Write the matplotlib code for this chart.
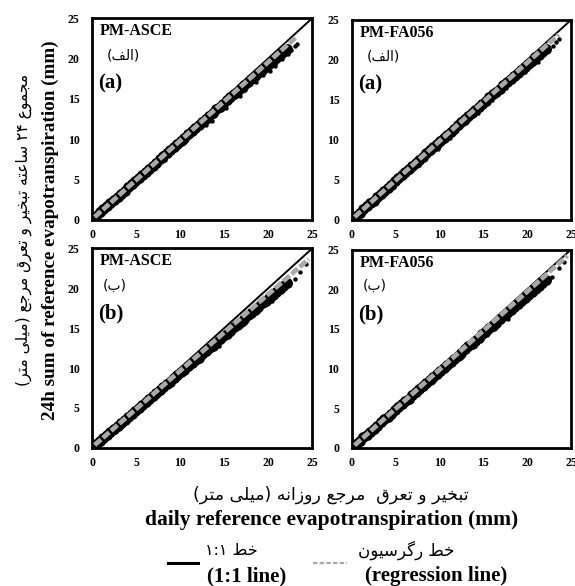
import matplotlib
matplotlib.use("Agg")
import matplotlib.pyplot as plt

# ---------------------------------------------------------------------------
# Data
# ---------------------------------------------------------------------------

PANEL_NAMES = ["PM-ASCE", "PM-FA056", "PM-ASCE", "PM-FA056"]
PANEL_TAGS_FA = ["(الف)", "(الف)", "(ب)", "(ب)"]
PANEL_TAGS_EN = ["(a)", "(a)", "(b)", "(b)"]
TICKS = [0, 5, 10, 15, 20, 25]

# daily reference ET (x), shared by the four panels
X_BAND = [0.5, 0.9, 1.3, 1.7, 2.1, 2.5, 2.9, 3.3, 3.7, 4.1, 4.5, 4.9, 5.3, 5.7,
          6.1, 6.5, 6.9, 7.3, 7.7, 8.1, 8.5, 8.9, 9.3, 9.7, 10.1, 10.5, 10.9,
          11.3, 11.7, 12.1, 12.5, 12.9, 13.3, 13.7, 14.1, 14.5, 14.9, 15.3,
          15.7, 16.1, 16.5, 16.9, 17.3, 17.7, 18.1, 18.5, 18.9, 19.3, 19.7,
          20.1, 20.5, 20.9, 21.3, 21.7, 22.1]

# 24h sums (y) per panel
Y_TL = [0.5, 0.9, 1.3, 1.7, 2.1, 2.4, 2.8, 3.2, 3.6, 4.0, 4.4, 4.8, 5.2, 5.6,
        5.9, 6.3, 6.7, 7.1, 7.5, 7.9, 8.3, 8.7, 9.0, 9.4, 9.8, 10.2, 10.6,
        11.0, 11.4, 11.7, 12.1, 12.5, 12.9, 13.3, 13.7, 14.0, 14.4, 14.8,
        15.2, 15.6, 15.9, 16.3, 16.7, 17.1, 17.4, 17.8, 18.2, 18.6, 18.9,
        19.3, 19.7, 20.1, 20.4, 20.8, 21.2]
Y_TR = [0.5, 0.9, 1.3, 1.7, 2.1, 2.4, 2.8, 3.2, 3.6, 4.0, 4.4, 4.8, 5.2, 5.6,
        6.0, 6.3, 6.7, 7.1, 7.5, 7.9, 8.3, 8.7, 9.1, 9.5, 9.9, 10.2, 10.6,
        11.0, 11.4, 11.8, 12.2, 12.6, 13.0, 13.4, 13.7, 14.1, 14.5, 14.9,
        15.3, 15.7, 16.0, 16.4, 16.8, 17.2, 17.6, 18.0, 18.3, 18.7, 19.1,
        19.5, 19.9, 20.3, 20.6, 21.0, 21.4]
Y_BL = [0.5, 0.8, 1.2, 1.6, 2.0, 2.4, 2.7, 3.1, 3.5, 3.9, 4.2, 4.6, 5.0, 5.4,
        5.7, 6.1, 6.5, 6.9, 7.2, 7.6, 8.0, 8.3, 8.7, 9.1, 9.5, 9.8, 10.2,
        10.6, 11.0, 11.3, 11.7, 12.1, 12.5, 12.8, 13.2, 13.6, 14.0, 14.3,
        14.7, 15.1, 15.4, 15.8, 16.2, 16.6, 16.9, 17.3, 17.7, 18.1, 18.4,
        18.8, 19.2, 19.5, 19.9, 20.3, 20.7]
Y_BR = [0.5, 0.9, 1.3, 1.6, 2.0, 2.4, 2.8, 3.2, 3.6, 3.9, 4.3, 4.7, 5.1, 5.5,
        5.9, 6.2, 6.6, 7.0, 7.4, 7.8, 8.2, 8.5, 8.9, 9.3, 9.7, 10.1, 10.4,
        10.8, 11.2, 11.6, 12.0, 12.4, 12.8, 13.1, 13.5, 13.9, 14.3, 14.7,
        15.1, 15.4, 15.8, 16.2, 16.6, 17.0, 17.4, 17.7, 18.1, 18.5, 18.9,
        19.3, 19.6, 20.0, 20.4, 20.8, 21.2]

# scattered points off the main band
OUT_X_TL = [3.2, 6.0, 8.3, 10.6, 12.9, 13.6, 15.2, 16.8, 17.4, 18.6, 19.4,
            20.2, 20.8, 21.6, 22.2, 22.6, 23.0, 23.3]
OUT_Y_TL = [2.6, 5.3, 7.4, 9.6, 11.8, 12.3, 13.9, 15.3, 16.1, 17.1, 17.9,
            18.5, 19.1, 19.9, 20.5, 21.1, 21.5, 21.8]
OUT_X_TR = [2.4, 4.8, 7.7, 9.8, 11.2, 13.0, 14.4, 16.0, 17.6, 18.8, 19.8,
            20.6, 21.2, 21.8, 22.4, 22.9, 23.3, 23.6]
OUT_Y_TR = [1.9, 4.1, 6.9, 8.9, 10.2, 12.1, 13.4, 15.0, 16.5, 17.7, 18.5,
            19.3, 19.7, 20.7, 21.1, 21.7, 22.2, 22.6]
OUT_X_BL = [2.6, 4.8, 7.4, 9.6, 11.6, 13.2, 14.4, 15.6, 16.8, 17.4, 18.2,
            18.9, 19.6, 20.4, 21.0, 21.6, 22.4, 23.0, 23.6, 24.3]
OUT_Y_BL = [2.0, 4.0, 6.5, 8.6, 10.5, 11.9, 12.7, 14.2, 15.2, 15.7, 16.7,
            17.2, 17.9, 18.4, 19.3, 19.8, 20.7, 21.2, 22.1, 23.0]
OUT_X_BR = [2.2, 4.6, 6.8, 9.2, 11.0, 12.6, 14.0, 15.4, 16.6, 17.8, 18.4,
            19.0, 19.6, 20.4, 21.2, 22.0, 22.8, 23.6, 24.2]
OUT_Y_BR = [1.7, 3.9, 6.0, 8.3, 10.0, 11.4, 12.8, 14.2, 15.3, 16.3, 17.4,
            18.2, 18.6, 19.5, 19.8, 20.9, 21.5, 22.7, 23.4]

Y_BANDS = [Y_TL, Y_TR, Y_BL, Y_BR]
OUT_X = [OUT_X_TL, OUT_X_TR, OUT_X_BL, OUT_X_BR]
OUT_Y = [OUT_Y_TL, OUT_Y_TR, OUT_Y_BL, OUT_Y_BR]

# regression line per panel: slope, intercept, x end
REG_SLOPE = [0.975, 0.98, 0.96, 0.985]
REG_INTERCEPT = [0.05, 0.05, 0.05, 0.0]
REG_XMAX = [23.3, 23.6, 24.6, 24.6]

YLABEL_FA = "مجموع ۲۴ ساعته تبخیر و تعرق مرجع (میلی متر)"
YLABEL_EN = "24h sum of reference evapotranspiration (mm)"
XLABEL_FA = "تبخیر و تعرق  مرجع روزانه (میلی متر)"
XLABEL_EN = "daily reference evapotranspiration (mm)"
LEG_FA = ["خط ۱:۱", "خط رگرسیون"]
LEG_EN = ["(1:1 line)", "(regression line)"]

# ---------------------------------------------------------------------------
# Minimal Persian shaping (matplotlib has no bidi / joining support)
# ---------------------------------------------------------------------------

# letter: (isolated, final, initial, medial); None for right-joining letters
FORMS = {
    "ا": ("\uFE8D", "\uFE8E", None, None),
    "ب": ("\uFE8F", "\uFE90", "\uFE91", "\uFE92"),
    "ت": ("\uFE95", "\uFE96", "\uFE97", "\uFE98"),
    "ج": ("\uFE9D", "\uFE9E", "\uFE9F", "\uFEA0"),
    "خ": ("\uFEA5", "\uFEA6", "\uFEA7", "\uFEA8"),
    "ر": ("\uFEAD", "\uFEAE", None, None),
    "ز": ("\uFEAF", "\uFEB0", None, None),
    "س": ("\uFEB1", "\uFEB2", "\uFEB3", "\uFEB4"),
    "ط": ("\uFEC1", "\uFEC2", "\uFEC3", "\uFEC4"),
    "ع": ("\uFEC9", "\uFECA", "\uFECB", "\uFECC"),
    "ف": ("\uFED1", "\uFED2", "\uFED3", "\uFED4"),
    "ق": ("\uFED5", "\uFED6", "\uFED7", "\uFED8"),
    "ل": ("\uFEDD", "\uFEDE", "\uFEDF", "\uFEE0"),
    "م": ("\uFEE1", "\uFEE2", "\uFEE3", "\uFEE4"),
    "ن": ("\uFEE5", "\uFEE6", "\uFEE7", "\uFEE8"),
    "ه": ("\uFEE9", "\uFEEA", "\uFEEB", "\uFEEC"),
    "و": ("\uFEED", "\uFEEE", None, None),
    "ی": ("\uFBFC", "\uFBFD", "\uFBFE", "\uFBFF"),
    "گ": ("\uFB92", "\uFB93", "\uFB94", "\uFB95"),
}


def shape_fa(text):
    out = []
    for i, ch in enumerate(text):
        if ch not in FORMS:
            out.append(ch)
            continue
        prev = text[i - 1] if i > 0 else ""
        nxt = text[i + 1] if i + 1 < len(text) else ""
        join_prev = prev in FORMS and FORMS[prev][2] is not None
        join_next = FORMS[ch][2] is not None and nxt in FORMS
        iso, fin, ini, med = FORMS[ch]
        if join_prev and join_next:
            out.append(med)
        elif join_prev:
            out.append(fin)
        elif join_next:
            out.append(ini)
        else:
            out.append(iso)
    # visual order: reverse, keep digit runs left-to-right, mirror brackets
    segs, run = [], ""
    for ch in out:
        if ch.isdigit() or ch == ":" or ch.isascii() and ch.isalnum():
            run += ch
        else:
            if run:
                segs.append(run)
                run = ""
            segs.append({"(": ")", ")": "("}.get(ch, ch))
    if run:
        segs.append(run)
    return "".join(reversed(segs))


# ---------------------------------------------------------------------------
# Plotting
# ---------------------------------------------------------------------------

SERIF = "Liberation Serif"
FA_FONT = "DejaVu Sans"
GRAY = "#a9a9a9"

fig = plt.figure(figsize=(5.75, 5.86), dpi=100)

axes_pos = [
    [0.160, 0.625, 0.383, 0.344],
    [0.612, 0.625, 0.381, 0.341],
    [0.160, 0.236, 0.383, 0.340],
    [0.612, 0.236, 0.381, 0.338],
]

for k, pos in enumerate(axes_pos):
    ax = fig.add_axes(pos)
    ax.scatter(X_BAND, Y_BANDS[k], s=62, color="black", linewidths=0, zorder=2)
    ax.scatter(OUT_X[k], OUT_Y[k], s=10, color="black", linewidths=0, zorder=2)
    ax.plot([0, 25], [0, 25], color="black", lw=1.4, zorder=3)
    x_reg = [0.3, REG_XMAX[k]]
    y_reg = [REG_SLOPE[k] * v + REG_INTERCEPT[k] for v in x_reg]
    ax.plot(x_reg, y_reg, color=GRAY, lw=3.4, ls=(0, (1.8, 0.5)), zorder=4)

    ax.set_xlim(0, 25)
    ax.set_ylim(0, 25)
    ax.set_xticks(TICKS)
    ax.set_yticks(TICKS)
    ax.tick_params(axis="x", length=0, pad=7, labelsize=8.5)
    ax.tick_params(axis="y", length=0, pad=9, labelsize=8.5)
    for lab in ax.get_xticklabels() + ax.get_yticklabels():
        lab.set_fontfamily(SERIF)
        lab.set_fontweight("bold")
    for sp in ax.spines.values():
        sp.set_linewidth(2.0)

    top = k < 2
    ax.text(0.035, 0.935, PANEL_NAMES[k], transform=ax.transAxes,
            fontfamily=SERIF, fontweight="bold", fontsize=11.5, va="center")
    ax.text(0.068 if top else 0.05, 0.815, shape_fa(PANEL_TAGS_FA[k]),
            transform=ax.transAxes, fontfamily=FA_FONT, fontsize=10,
            ha="left", va="center")
    ax.text(0.03, 0.675, PANEL_TAGS_EN[k], transform=ax.transAxes,
            fontfamily=SERIF, fontweight="bold", fontsize=15, va="center")

# axis titles
fig.text(0.042, 0.607, shape_fa(YLABEL_FA), rotation=90, ha="center",
         va="center", fontfamily=FA_FONT, fontsize=11.2)
fig.text(0.087, 0.607, YLABEL_EN, rotation=90, ha="center", va="center",
         fontfamily=SERIF, fontweight="bold", fontsize=13.8)
fig.text(0.576, 0.155, shape_fa(XLABEL_FA), ha="center", va="center",
         fontfamily=FA_FONT, fontsize=12.5)
fig.text(0.576, 0.113, XLABEL_EN, ha="center", va="center",
         fontfamily=SERIF, fontweight="bold", fontsize=15.5)

# hand-made legend
leg_ax = fig.add_axes([0, 0, 1, 1], facecolor="none")
leg_ax.set_xlim(0, 575)
leg_ax.set_ylim(586, 0)
leg_ax.axis("off")
leg_ax.plot([168, 198], [563, 563], color="black", lw=2.2)
leg_ax.plot([313, 347], [563, 563], color=GRAY, lw=1.6, ls=(0, (2, 1)))
fig.text(231 / 575, 0.061, shape_fa(LEG_FA[0]), ha="center", va="center",
         fontfamily=FA_FONT, fontsize=11.5)
fig.text(406 / 575, 0.061, shape_fa(LEG_FA[1]), ha="center", va="center",
         fontfamily=FA_FONT, fontsize=12)
fig.text(247 / 575, 0.017, LEG_EN[0], ha="center", va="center",
         fontfamily=SERIF, fontweight="bold", fontsize=15)
fig.text(436 / 575, 0.017, LEG_EN[1], ha="center", va="center",
         fontfamily=SERIF, fontweight="bold", fontsize=15)

fig.savefig("out.png", dpi=100)
